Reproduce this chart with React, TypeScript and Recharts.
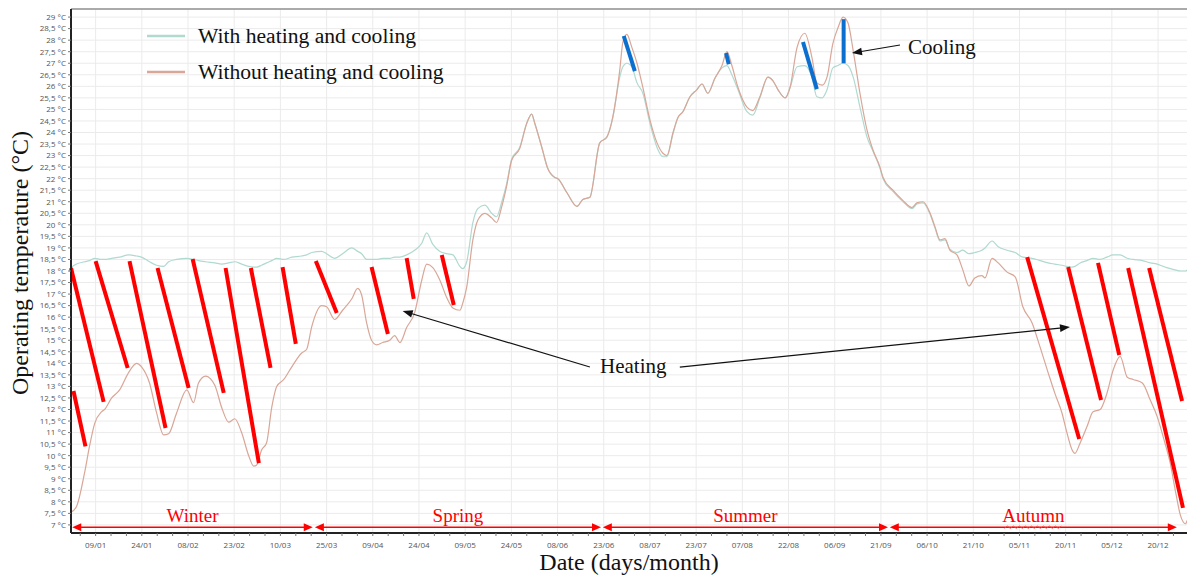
import React from "react";
import {
  LineChart,
  Line,
  XAxis,
  YAxis,
  CartesianGrid,
  ReferenceLine,
  Legend,
} from "recharts";

// Day of year (0 = 1 Jan) and operating temperature (°C).
const days = [
  0, 1.8, 4.4, 6.0, 7.7, 9.9, 10.9, 13.2, 15.8, 18.7,
  21.3, 22.9, 25.5, 27.8, 30.1, 31.7, 34.3, 37.6, 39.8, 41.4,
  43.7, 46.7, 48.9, 51.2, 53.2, 55.4, 57.7, 59.3, 60.3, 61.9,
  63.5, 65.2, 66.8, 69.1, 71.7, 74.9, 76.5, 78.2, 81.4, 83.0,
  85.6, 88.2, 91.2, 93.1, 94.4, 96.0, 97.6, 99.3, 101.2, 103.5,
  105.1, 106.8, 109.0, 111.6, 113.9, 115.5, 117.5, 119.8, 122.0, 124.0,
  126.3, 127.2, 128.5, 130.5, 132.1, 134.4, 136.6, 138.2, 139.9, 141.5,
  143.1, 145.7, 148.0, 149.6, 150.6, 152.9, 154.8, 157.1, 158.1, 161.0,
  164.3, 166.2, 168.5, 171.7, 174.0, 175.9, 178.2, 179.2, 180.5, 182.1,
  183.8, 185.7, 188.0, 190.3, 192.2, 193.5, 195.5, 197.1, 198.7, 201.0,
  203.2, 204.9, 206.8, 209.1, 211.4, 213.0, 214.6, 216.6, 219.5, 221.4,
  223.7, 226.3, 227.9, 229.6, 231.9, 233.5, 235.8, 238.3, 240.6, 242.2,
  243.9, 245.5, 247.4, 249.1, 250.7, 252.3, 254.0, 256.2, 258.5, 260.4,
  262.7, 263.7, 266.9, 270.2, 273.1, 274.7, 276.7, 279.0, 280.6, 282.2,
  283.8, 285.4, 287.7, 289.6, 291.6, 293.5, 295.8, 296.8, 299.1, 301.1,
  304.0, 306.6, 309.1, 312.1, 314.7, 317.3, 319.5, 321.8, 323.4, 325.1,
  326.0, 327.7, 329.9, 331.9, 334.2, 336.4, 338.4, 340.7, 343.0, 344.9,
  347.9, 350.5, 352.7, 354.7, 357.0, 358.6, 360.3, 361.9, 362.5,
];

const withHC = [
  18.15, 18.3, 18.4, 18.45, 18.55, 18.5, 18.5, 18.55, 18.6, 18.7,
  18.65, 18.6, 18.4, 18.25, 18.2, 18.4, 18.5, 18.55, 18.5, 18.45,
  18.4, 18.35, 18.3, 18.35, 18.4, 18.3, 18.2, 18.17, 18.17, 18.25,
  18.35, 18.45, 18.55, 18.5, 18.6, 18.65, 18.7, 18.8, 18.85, 18.75,
  18.55, 18.75, 19.0, 18.85, 18.75, 18.5, 18.5, 18.5, 18.55, 18.55,
  18.6, 18.6, 18.7, 18.9, 19.2, 19.65, 19.15, 18.85, 18.75, 18.7,
  18.2, 18.1, 18.4, 20.1, 20.7, 20.85, 20.5, 20.35, 21.0, 21.8,
  22.85, 23.35, 24.4, 24.8, 24.4, 23.35, 22.45, 22.05, 22.0, 21.4,
  20.8, 21.1, 21.2, 23.55, 23.8, 24.6, 26.4, 26.85, 27.0, 26.85,
  26.15, 25.7, 24.4, 23.35, 22.95, 22.95, 23.95, 24.65, 24.9, 25.55,
  25.85, 26.1, 25.7, 26.35, 26.8, 26.9, 26.5, 25.85, 24.9, 24.75,
  25.5, 26.4, 26.25, 25.85, 25.5, 25.95, 26.85, 26.9, 26.4, 25.55,
  25.5, 25.85, 26.8, 26.9, 27.0, 26.9, 26.4, 25.1, 23.8, 23.2,
  22.45, 22.0, 21.45, 21.0, 20.7, 20.9, 20.95, 20.45, 19.85, 19.3,
  19.35, 18.95, 18.8, 18.9, 18.75, 18.8, 18.9, 19.0, 19.3, 19.05,
  18.9, 18.8, 18.6, 18.55, 18.45, 18.35, 18.3, 18.25, 18.2, 18.17,
  18.2, 18.35, 18.45, 18.55, 18.5, 18.6, 18.7, 18.7, 18.55, 18.5,
  18.45, 18.35, 18.3, 18.2, 18.1, 18.05, 18.0, 18.0, 18.05,
];

const withoutHC = [
  7.55, 7.8, 9.25, 10.4, 11.4, 11.9, 12.0, 12.5, 12.85, 13.6,
  14.0, 13.85, 13.15, 11.85, 10.9, 10.95, 11.85, 12.85, 12.3, 13.15,
  13.45, 13.05, 12.1, 11.45, 11.6, 11.0, 10.0, 9.55, 9.6, 10.25,
  10.55, 12.1, 13.0, 13.3, 13.85, 14.45, 14.6, 15.6, 16.5, 16.45,
  15.9, 16.3, 16.8, 17.25, 16.95, 15.75, 15.0, 14.8, 14.9, 15.0,
  15.2, 14.9, 15.55, 16.2, 17.6, 18.3, 18.15, 17.6, 16.85, 16.4,
  16.3, 16.6, 17.3, 19.35, 20.2, 20.5, 20.3, 20.1, 20.8, 21.7,
  22.8, 23.3, 24.4, 24.8, 24.4, 23.35, 22.45, 22.05, 22.0, 21.4,
  20.8, 21.1, 21.2, 23.55, 23.8, 24.65, 26.7, 27.9, 28.25, 27.7,
  27.0, 25.95, 24.55, 23.55, 23.1, 23.0, 24.0, 24.65, 24.9, 25.55,
  25.85, 26.1, 25.7, 26.35, 26.9, 27.5, 26.9, 25.95, 25.1, 24.95,
  25.55, 26.4, 26.25, 25.85, 25.5, 25.95, 27.7, 28.3, 27.25, 26.15,
  26.05, 26.4, 27.85, 28.55, 29.0, 28.75, 27.55, 25.7, 24.1, 23.25,
  22.5, 22.05, 21.5, 21.05, 20.75, 20.95, 21.0, 20.5, 19.9, 19.35,
  19.4, 18.9, 18.7, 18.05, 17.35, 17.7, 17.8, 17.7, 18.55, 18.35,
  17.95, 17.75, 16.45, 15.75, 14.7, 13.6, 12.7, 11.85, 11.0, 10.25,
  10.1, 10.55, 11.25, 11.9, 12.0, 12.7, 13.7, 14.3, 13.4, 13.3,
  13.15, 12.4, 11.7, 10.8, 9.65, 8.5, 7.4, 7.05, 7.2,
];

const xTickDays = [8, 23, 38, 53, 68, 83, 98, 113, 128, 143, 158, 173, 188, 203, 218, 233, 248, 263, 278, 293, 308, 323, 338, 353];
const xTickLabels = [
  "09/01", "24/01", "08/02", "23/02", "10/03", "25/03", "09/04", "24/04",
  "09/05", "24/05", "08/06", "23/06", "08/07", "23/07", "07/08", "22/08",
  "06/09", "21/09", "06/10", "21/10", "05/11", "20/11", "05/12", "20/12",
];
const yTicks = [
  7, 7.5, 8, 8.5, 9, 9.5, 10, 10.5, 11, 11.5, 12, 12.5, 13, 13.5, 14, 14.5,
  15, 15.5, 16, 16.5, 17, 17.5, 18, 18.5, 19, 19.5, 20, 20.5, 21, 21.5, 22,
  22.5, 23, 23.5, 24, 24.5, 25, 25.5, 26, 26.5, 27, 27.5, 28, 28.5, 29,
];

// heating / cooling strokes: [day from, °C from, day to, °C to]
const heatingMarks = [
  [0, 18.13, 10.6, 12.33],
  [0.8, 12.8, 4.7, 10.4],
  [8.0, 18.43, 18.4, 13.8],
  [19.0, 18.43, 30.7, 11.2],
  [28.1, 18.13, 38.2, 12.93],
  [39.5, 18.52, 49.6, 12.72],
  [50.2, 18.13, 61.0, 9.68],
  [58.4, 18.13, 64.8, 13.8],
  [68.7, 18.17, 73.0, 14.84],
  [79.5, 18.43, 86.3, 16.18],
  [97.6, 18.17, 102.9, 15.27],
  [109.0, 18.56, 111.3, 16.79],
  [120.4, 18.69, 124.3, 16.53],
  [310.5, 18.6, 327.4, 10.72],
  [323.8, 18.17, 334.5, 12.41],
  [333.5, 18.35, 340.4, 14.36],
  [343.3, 18.13, 361.1, 7.74],
  [350.1, 18.13, 360.8, 12.37],
];
const coolingMarks = [
  [179.5, 28.18, 183.1, 26.66],
  [212.7, 27.44, 213.6, 26.96],
  [237.7, 27.92, 242.2, 25.88],
  [250.9, 28.91, 250.9, 27.0],
];

// pointer arrows from the annotation text: [day from, °C from, day to, °C to]
const pointers = [
  [168.5, 13.84, 107.7, 16.27],
  [197.7, 13.84, 324.4, 15.57],
  [269.2, 27.79, 253.6, 27.44],
];

const seasons = ["Winter", "Spring", "Summer", "Autumn"];
const seasonFrom = [0.4, 79.2, 172.7, 265.9];
const seasonTo = [78.5, 172.1, 265.3, 359.1];
const seasonLevel = 6.9;

const rows = days.map((d, i) => ({ day: d, with: withHC[i], without: withoutHC[i] }));
const minorTicks = Array.from({ length: 73 }, (_, i) => 3 + 5 * i);

const SERIF = "'Liberation Serif', 'DejaVu Serif', serif";
const SANS = "'Open Sans', 'Liberation Sans', sans-serif";
const TEAL = "#b0d9d0";
const ROSE = "#d9a697";

function tickLabel(d: number) {
  const i = xTickDays.indexOf(d);
  return i >= 0 ? xTickLabels[i] : "";
}

function head(x: number, y: number, ang: number, L: number, W: number, fill: string) {
  const bx = x - L * Math.cos(ang);
  const by = y - L * Math.sin(ang);
  const px = -Math.sin(ang) * W;
  const py = Math.cos(ang) * W;
  return <polygon points={`${x},${y} ${bx + px},${by + py} ${bx - px},${by - py}`} fill={fill} />;
}

function pointerShape(p: any) {
  const { x1, y1, x2, y2 } = p;
  const ang = Math.atan2(y2 - y1, x2 - x1);
  return (
    <g>
      <line x1={x1} y1={y1} x2={x2 - 8 * Math.cos(ang)} y2={y2 - 8 * Math.sin(ang)} stroke="#111" strokeWidth={1.2} />
      {head(x2, y2, ang, 10, 3.8, "#111")}
    </g>
  );
}

function seasonShape(label: string) {
  return (p: any) => {
    const { x1, y1, x2, y2 } = p;
    const mid = (x1 + x2) / 2;
    return (
      <g>
        <line x1={x1 + 6} y1={y1} x2={x2 - 6} y2={y2} stroke="#ff0000" strokeWidth={1.4} />
        {head(x1, y1, Math.PI, 9, 4, "#ff0000")}
        {head(x2, y2, 0, 9, 4, "#ff0000")}
        <text x={mid} y={y1 - 5} textAnchor="middle" fontFamily={SERIF} fontSize={19} fill="#ff0000">
          {label}
        </text>
        {label === "Autumn" && (
          <path
            d={Array.from({ length: 20 }, (_, k) => `${k === 0 ? "M" : "L"}${mid - 29 + k * 3},${y1 + (k % 2 ? -1.2 : 1.2)}`).join(" ")}
            stroke="#ff4040"
            strokeWidth={0.8}
            fill="none"
          />
        )}
      </g>
    );
  };
}

function LegendBox(props: any) {
  const items = props.payload || [];
  return (
    <svg width={340} height={75}>
      {items.map((it: any, i: number) => (
        <g key={it.value}>
          <line x1={7} x2={45} y1={16 + i * 36} y2={16 + i * 36} stroke={it.color} strokeWidth={2.4} />
          <text x={58} y={23 + i * 36} fontFamily={SERIF} fontSize={21.6} fill="#111">
            {it.value}
          </text>
        </g>
      ))}
    </svg>
  );
}

export default function App() {
  return (
    <div
      style={{
        position: "absolute",
        left: 0,
        top: 0,
        width: 1187,
        height: 577,
        overflow: "hidden",
        background: "#fff",
      }}
    >
      <LineChart width={1195} height={577} data={rows} margin={{ top: 9, right: 0, bottom: 14, left: 9 }}>
        <CartesianGrid stroke="#ebebeb" strokeWidth={1} horizontalValues={yTicks} verticalValues={xTickDays} />
        <XAxis
          dataKey="day"
          type="number"
          domain={[0, 365]}
          ticks={minorTicks}
          interval={0}
          height={30}
          tickSize={3}
          tickLine={{ stroke: "#777" }}
          axisLine={{ stroke: "#222", strokeWidth: 2 }}
          tick={(p: any) => (
            <text x={p.x} y={p.y} dy={10} textAnchor="middle" fontSize={8} fontFamily={SANS} fill="#555">
              {tickLabel(p.payload.value)}
            </text>
          )}
        />
        <YAxis
          type="number"
          domain={[6.65, 29.35]}
          ticks={yTicks}
          interval={0}
          width={62}
          tickSize={3}
          tickLine={{ stroke: "#777" }}
          axisLine={{ stroke: "#222", strokeWidth: 2 }}
          tick={{ fontSize: 8, fontFamily: SANS, fill: "#555" }}
          tickFormatter={(v: number) => `${String(v).replace(".", ",")} °C`}
        />
        <ReferenceLine y={29.35} stroke="#aaa" strokeWidth={2} />
        <Line
          type="monotone"
          dataKey="with"
          name="With heating and cooling"
          stroke={TEAL}
          strokeWidth={1.2}
          dot={false}
          activeDot={false}
          isAnimationActive={false}
        />
        <Line
          type="monotone"
          dataKey="without"
          name="Without heating and cooling"
          stroke={ROSE}
          strokeWidth={1.2}
          dot={false}
          activeDot={false}
          isAnimationActive={false}
        />
        {heatingMarks.map((m, i) => (
          <ReferenceLine
            key={"h" + i}
            segment={[{ x: m[0], y: m[1] }, { x: m[2], y: m[3] }]}
            stroke="#ff0000"
            strokeWidth={4}
            ifOverflow="visible"
          />
        ))}
        {coolingMarks.map((m, i) => (
          <ReferenceLine
            key={"c" + i}
            segment={[{ x: m[0], y: m[1] }, { x: m[2], y: m[3] }]}
            stroke="#0b6fcf"
            strokeWidth={4}
            ifOverflow="visible"
          />
        ))}
        {pointers.map((m, i) => (
          <ReferenceLine
            key={"p" + i}
            segment={[{ x: m[0], y: m[1] }, { x: m[2], y: m[3] }]}
            shape={pointerShape}
            ifOverflow="visible"
          />
        ))}
        {seasons.map((s, i) => (
          <ReferenceLine
            key={s}
            segment={[{ x: seasonFrom[i], y: seasonLevel }, { x: seasonTo[i], y: seasonLevel }]}
            shape={seasonShape(s)}
            ifOverflow="visible"
          />
        ))}
        <Legend
          layout="vertical"
          align="center"
          verticalAlign="middle"
          content={LegendBox}
          wrapperStyle={{ left: 140, top: 20, width: 340, height: 75 }}
        />
      </LineChart>
      <svg
        width={1187}
        height={577}
        style={{ position: "absolute", left: 0, top: 0, pointerEvents: "none" }}
      >
        <text
          transform="translate(28,263) rotate(-90)"
          textAnchor="middle"
          fontFamily={SERIF}
          fontSize={24}
          fill="#111"
        >
          Operating temperature (°C)
        </text>
        <text x={629} y={570} textAnchor="middle" fontFamily={SERIF} fontSize={24} fill="#111">
          Date (days/month)
        </text>
        <text x={600} y={373} fontFamily={SERIF} fontSize={21} fill="#111">
          Heating
        </text>
        <text x={908} y={54} fontFamily={SERIF} fontSize={21} fill="#111">
          Cooling
        </text>
      </svg>
    </div>
  );
}
